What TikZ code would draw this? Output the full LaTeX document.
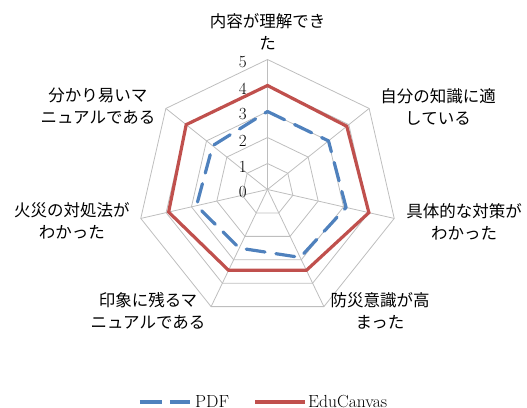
\documentclass[tikz,border=0pt]{standalone}
\usepackage{fontspec}
\newfontfamily\jp{Noto Sans CJK JP}
\definecolor{gridgray}{HTML}{BEBEBE}
\definecolor{pdfblue}{HTML}{4F81BD}
\definecolor{edured}{HTML}{C0504D}
\tikzset{
  gridline/.style={draw=gridgray, line width=0.8pt},
  pdfline/.style={draw=pdfblue, line width=3.2pt, line cap=round, line join=round, dash pattern=on 19pt off 11pt},
  eduline/.style={draw=edured, line width=3.2pt, line join=miter},
  catlabel/.style={align=center, inner sep=0pt, font=\jp\fontsize{16.5}{22}\selectfont},
  numlabel/.style={anchor=east, inner sep=0pt, font=\fontsize{17}{17}\selectfont},
  legtext/.style={anchor=base west, inner sep=0pt, font=\fontsize{17.5}{17.5}\selectfont}
}
\begin{document}
\begin{tikzpicture}[x=1pt,y=1pt]
\useasboundingbox (-267.5,-217.5) rectangle (259.5,189.5);
\def\u{26}
% rings
\foreach \k in {1,...,5}{
  \draw[gridline] (90:\k*\u) -- (90-360/7:\k*\u) -- (90-2*360/7:\k*\u) -- (90-3*360/7:\k*\u)
   -- (90-4*360/7:\k*\u) -- (90-5*360/7:\k*\u) -- (90-6*360/7:\k*\u) -- cycle;
}
% spokes
\coordinate (c) at (0,0);
\foreach \i in {0,...,6}{
  \coordinate (s\i) at (90-\i*360/7:5*\u);
  \draw[gridline] (c) -- (s\i);
}
% number labels
\foreach \k in {0,...,5}{
  \node[numlabel] (n\k) at (-20.5,\k*\u-3) {\k};
}
% series
\draw[eduline] (90:4.0*\u) -- (90-360/7:3.9*\u) -- (90-2*360/7:4.0*\u) -- (90-3*360/7:3.45*\u)
  -- (90-4*360/7:3.45*\u) -- (90-5*360/7:3.9*\u) -- (90-6*360/7:4.0*\u) -- cycle;
\draw[pdfline] (90:3.0*\u) -- (90-360/7:3.0*\u) -- (90-2*360/7:3.1*\u) -- (90-3*360/7:2.9*\u)
  -- (90-4*360/7:2.5*\u) -- (90-5*360/7:2.8*\u) -- (90-6*360/7:2.7*\u) -- cycle;
% category labels
\node[catlabel] (l0) at (0,158) {内容が理解でき\\た};
\node[catlabel] (l1) at (170.5,83) {自分の知識に適\\している};
\node[catlabel] (l2) at (196.5,-32) {具体的な対策が\\わかった};
\node[catlabel] (l3) at (112.5,-121.5) {防災意識が高\\まった};
\node[catlabel] (l4) at (-119.5,-121.5) {印象に残るマ\\ニュアルである};
\node[catlabel] (l5) at (-195.5,-31.5) {火災の対処法が\\わかった};
\node[catlabel] (l6) at (-169.5,83) {分かり易いマ\\ニュアルである};
% legend
\coordinate (pa) at (-127.5,-212.5);
\coordinate (pb) at (-77.5,-212.5);
\draw[pdfline, line cap=butt, dash pattern=on 22pt off 8pt] (pa) -- (pb);
\node[legtext] (pt) at (-72.5,-218) {PDF};
\coordinate (ea) at (-12.5,-212.5);
\coordinate (eb) at (37.5,-212.5);
\draw[eduline] (ea) -- (eb);
\node[legtext] (et) at (40.5,-218) {EduCanvas};
\end{tikzpicture}
\end{document}
